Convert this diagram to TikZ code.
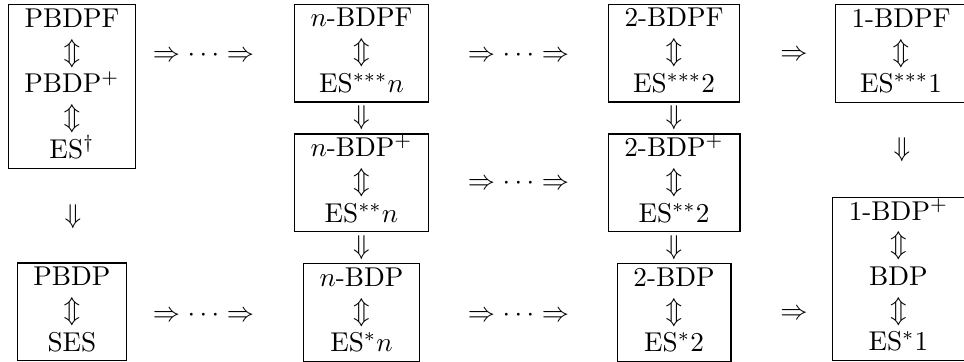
\documentclass[tikz,border=0pt]{standalone}
\usepackage{amsmath}
\usepackage{amssymb}
\usepackage{tikz}
\usetikzlibrary{positioning}
\tikzstyle{cell} = [draw, inner sep=0pt]
\tikzstyle{implies} = [inner sep=1pt]

\begin{document}
\begin{tikzpicture}
    \useasboundingbox (0,0) rectangle (12.456,-4.677);
    % left column
    \node[cell] (pbdpf) at (0.930,-1.118) {\begin{tabular}{c}PBDPF\\$\Updownarrow$\\PBDP$^+$\\$\Updownarrow$\\ES$^\dagger$\end{tabular}};
    \node[implies] (dleft) at (0.943,-2.804) {$\Downarrow$};
    \node[cell] (pbdp) at (0.930,-4.031) {\begin{tabular}{c}PBDP\\$\Updownarrow$\\SES\end{tabular}};
    \node[implies] (ra1) at (2.629,-0.711) {$\Rightarrow\cdots\Rightarrow$};
    \node[implies] (ra3) at (2.629,-4.070) {$\Rightarrow\cdots\Rightarrow$};
    % n column
    \node[cell] (nbdpf) at (4.671,-0.685) {\begin{tabular}{c}$n$-BDPF\\$\Updownarrow$\\ES$^{***}n$\end{tabular}};
    \node[implies] (dn1) at (4.671,-1.518) {$\Downarrow$};
    \node[cell] (nbdpp) at (4.671,-2.364) {\begin{tabular}{c}$n$-BDP$^+$\\$\Updownarrow$\\ES$^{**}n$\end{tabular}};
    \node[implies] (dn2) at (4.671,-3.204) {$\Downarrow$};
    \node[cell] (nbdp) at (4.671,-4.038) {\begin{tabular}{c}$n$-BDP\\$\Updownarrow$\\ES$^{*}n$\end{tabular}};
    \node[implies] (rb1) at (6.699,-0.711) {$\Rightarrow\cdots\Rightarrow$};
    \node[implies] (rb2) at (6.699,-2.364) {$\Rightarrow\cdots\Rightarrow$};
    \node[implies] (rb3) at (6.699,-4.070) {$\Rightarrow\cdots\Rightarrow$};
    % 2 column
    \node[cell] (tbdpf) at (8.709,-0.685) {\begin{tabular}{c}2-BDPF\\$\Updownarrow$\\ES$^{***}2$\end{tabular}};
    \node[implies] (dt1) at (8.709,-1.518) {$\Downarrow$};
    \node[cell] (tbdpp) at (8.709,-2.364) {\begin{tabular}{c}2-BDP$^+$\\$\Updownarrow$\\ES$^{**}2$\end{tabular}};
    \node[implies] (dt2) at (8.709,-3.204) {$\Downarrow$};
    \node[cell] (tbdp) at (8.709,-4.038) {\begin{tabular}{c}2-BDP\\$\Updownarrow$\\ES$^{*}2$\end{tabular}};
    \node[implies] (rc1) at (10.259,-0.711) {$\Rightarrow$};
    \node[implies] (rc3) at (10.259,-4.070) {$\Rightarrow$};
    % 1 column
    \node[cell] (obdpf) at (11.642,-0.691) {\begin{tabular}{c}1-BDPF\\$\Updownarrow$\\ES$^{***}1$\end{tabular}};
    \node[implies] (dright) at (11.655,-1.938) {$\Downarrow$};
    \node[cell] (obdpp) at (11.609,-3.605) {\begin{tabular}{c}1-BDP$^+$\\$\Updownarrow$\\BDP\\$\Updownarrow$\\ES$^{*}1$\end{tabular}};
\end{tikzpicture}
\end{document}
